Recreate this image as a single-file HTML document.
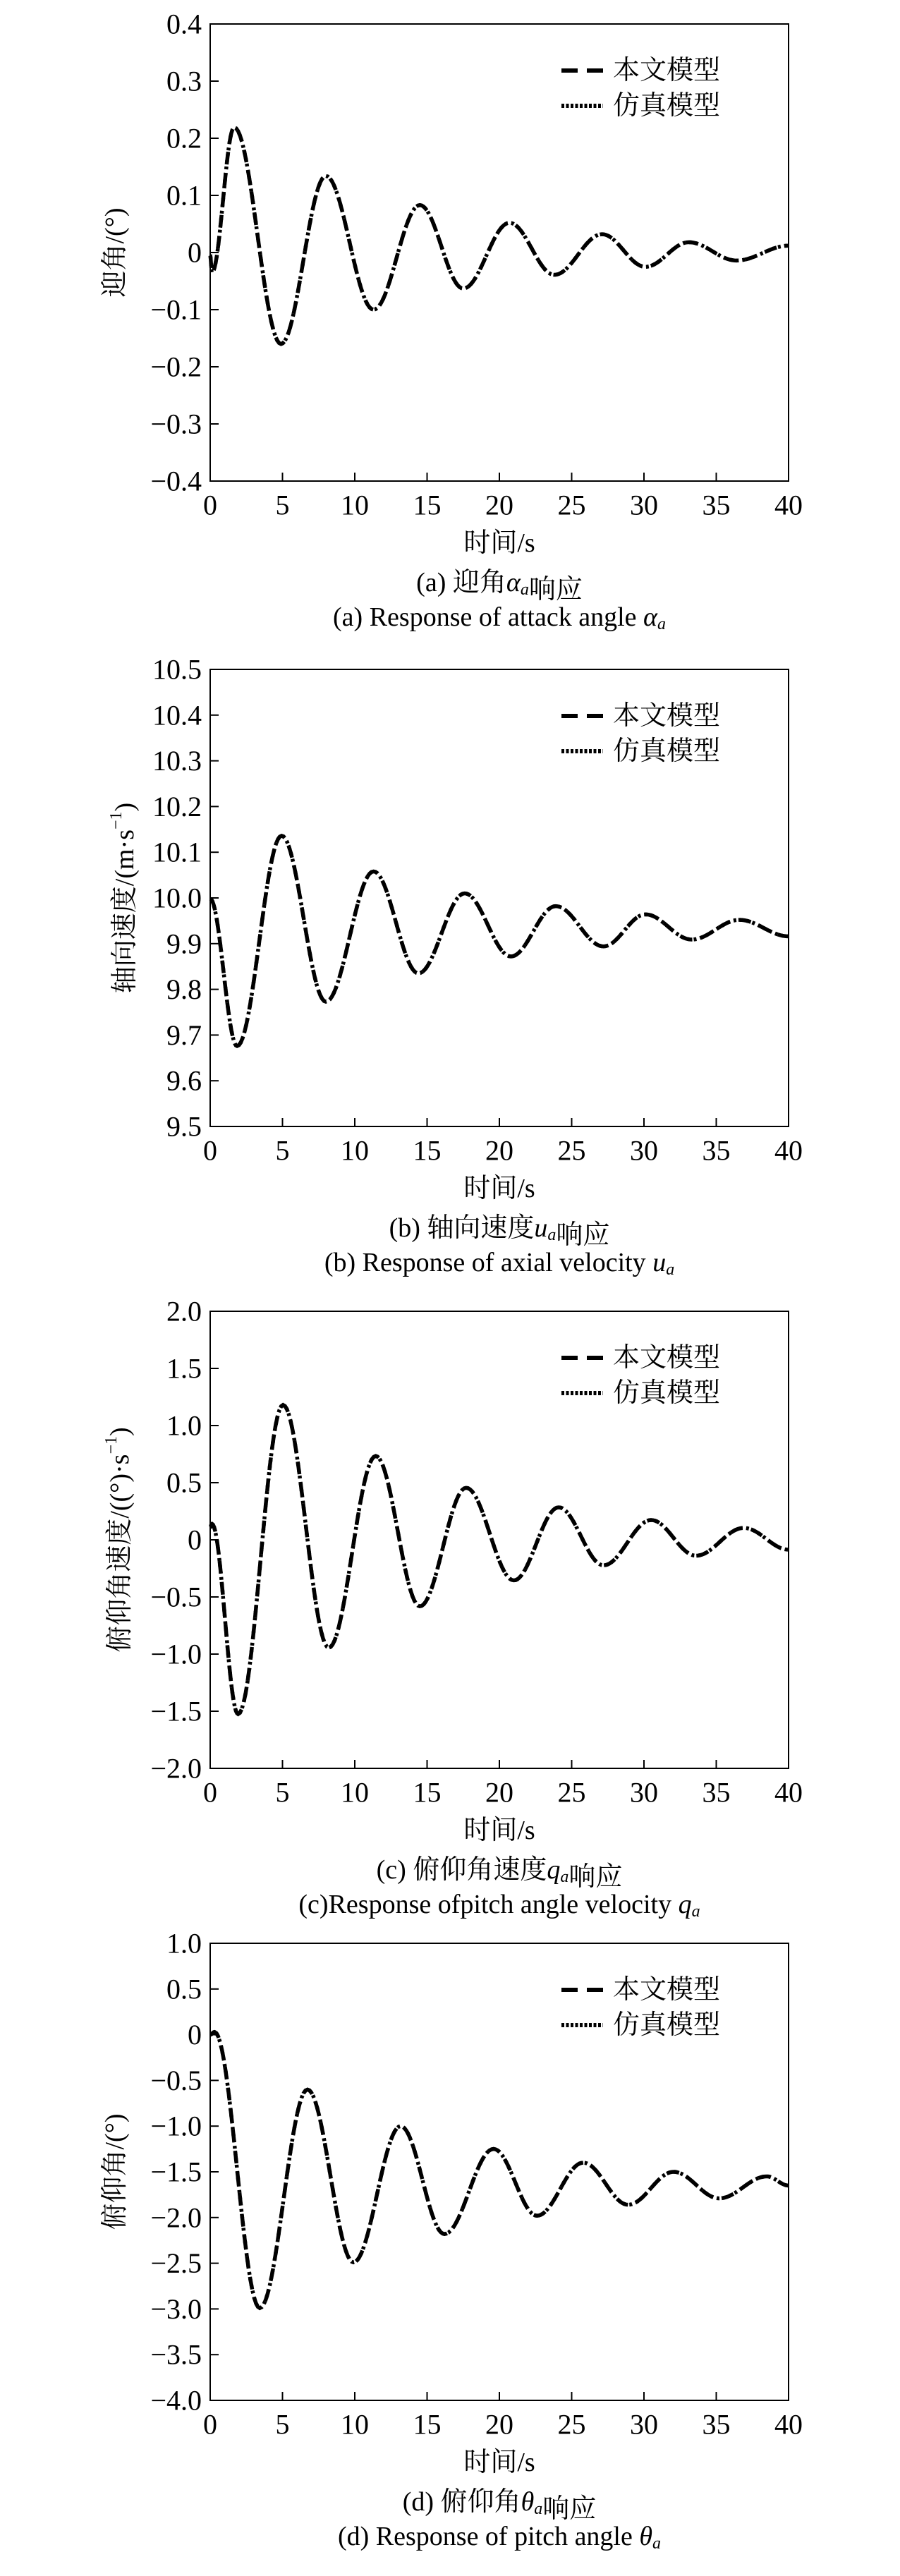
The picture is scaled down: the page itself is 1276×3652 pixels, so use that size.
<!DOCTYPE html>
<html><head><meta charset="utf-8">
<style>
html,body{margin:0;padding:0;background:#fff;}
svg{display:block;}
text{font-family:"Liberation Serif","Noto Serif CJK SC",serif;fill:#000;}
</style></head>
<body>
<svg id="fig" xmlns="http://www.w3.org/2000/svg" width="1276" height="3652" viewBox="0 0 1276 3652"></svg>
<script>
// ---- shared axis data ----
const timeTicks = [0,5,10,15,20,25,30,35,40];
const timeTickLabels = ["0","5","10","15","20","25","30","35","40"];

// ---- (a) attack angle ----
const alphaTime = [0,0.12,1.66,4.9,8.0,11.3,14.5,17.5,20.7,23.8,27.1,30.1,33.1,36.4,40];
const alphaModel = [-0.005,-0.035,0.219,-0.16,0.134,-0.10,0.083,-0.063,0.052,-0.039,0.032,-0.025,0.018,-0.014,0.012];
const alphaSim = [-0.005,-0.035,0.219,-0.16,0.134,-0.10,0.083,-0.063,0.052,-0.039,0.032,-0.025,0.018,-0.014,0.012];
const alphaTicks = [-0.4,-0.3,-0.2,-0.1,0,0.1,0.2,0.3,0.4];
const alphaTickLabels = ["\u22120.4","\u22120.3","\u22120.2","\u22120.1","0","0.1","0.2","0.3","0.4"];

// ---- (b) axial velocity ----
const uTime = [0,1.86,4.94,8.0,11.3,14.4,17.6,20.8,23.9,27.2,30.1,33.3,36.6,40];
const uModel = [9.998,9.676,10.136,9.773,10.058,9.835,10.010,9.872,9.982,9.894,9.964,9.909,9.952,9.916];
const uSim = [9.998,9.676,10.136,9.773,10.058,9.835,10.010,9.872,9.982,9.894,9.964,9.909,9.952,9.916];
const uTicks = [9.5,9.6,9.7,9.8,9.9,10.0,10.1,10.2,10.3,10.4,10.5];
const uTickLabels = ["9.5","9.6","9.7","9.8","9.9","10.0","10.1","10.2","10.3","10.4","10.5"];

// ---- (c) pitch rate ----
const qTime = [0,0.12,1.93,5.04,8.2,11.45,14.5,17.7,21.0,24.1,27.2,30.5,33.6,36.9,40];
const qModel = [0.11,0.14,-1.525,1.18,-0.944,0.733,-0.582,0.455,-0.355,0.284,-0.223,0.173,-0.139,0.104,-0.086];
const qSim = [0.11,0.14,-1.525,1.18,-0.944,0.733,-0.582,0.455,-0.355,0.284,-0.223,0.173,-0.139,0.104,-0.086];
const qTicks = [-2.0,-1.5,-1.0,-0.5,0,0.5,1.0,1.5,2.0];
const qTickLabels = ["\u22122.0","\u22121.5","\u22121.0","\u22120.5","0","0.5","1.0","1.5","2.0"];

// ---- (d) pitch angle ----
const thetaTime = [0,0.3,3.43,6.73,9.91,13.17,16.2,19.6,22.6,25.8,28.9,32.05,35.2,38.5,40];
const thetaModel = [0,0.03,-2.99,-0.60,-2.49,-1.0,-2.18,-1.25,-1.98,-1.40,-1.86,-1.50,-1.79,-1.55,-1.65];
const thetaSim = [0,0.03,-2.99,-0.60,-2.49,-1.0,-2.18,-1.25,-1.98,-1.40,-1.86,-1.50,-1.79,-1.55,-1.65];
const thetaTicks = [-4.0,-3.5,-3.0,-2.5,-2.0,-1.5,-1.0,-0.5,0,0.5,1.0];
const thetaTickLabels = ["\u22124.0","\u22123.5","\u22123.0","\u22122.5","\u22122.0","\u22121.5","\u22121.0","\u22120.5","0","0.5","1.0"];

const NS = "http://www.w3.org/2000/svg";
const svg = document.getElementById("fig");
function mk(tag, attrs, parent){
  const e = document.createElementNS(NS, tag);
  for (const k in attrs) e.setAttribute(k, attrs[k]);
  (parent||svg).appendChild(e);
  return e;
}
const L = 298, R = 1118, H = 648;

function drawPanel(key, top, yMin, yMax, ticks, tickLabels, times, model, sim, yTitleHTML, cap1HTML, cap2HTML, yTitleX){
  const bottom = top + H;
  const g = mk("g", {});
  
  
  const xs = t => L + (t - 0) / 40 * (R - L);
  const ys = v => bottom - (v - yMin) / (yMax - yMin) * H;

  // curves
  function pathFor(tArr, vArr){
    let d = "M" + xs(tArr[0]).toFixed(2) + "," + ys(vArr[0]).toFixed(2);
    for (let i = 0; i < tArr.length - 1; i++){
      const n = 24;
      for (let k = 1; k <= n; k++){
        const s = k / n;
        const t = tArr[i] + (tArr[i+1] - tArr[i]) * s;
        const v = vArr[i] + (vArr[i+1] - vArr[i]) * (1 - Math.cos(Math.PI * s)) / 2;
        d += " L" + xs(t).toFixed(2) + "," + ys(v).toFixed(2);
      }
    }
    return d;
  }
  const p1 = mk("path", {d: pathFor(times, model), fill:"none", stroke:"#000", "stroke-width":"5.5", "stroke-dasharray":"18 12"}, g);
  
  
  const p2 = mk("path", {d: pathFor(times, sim), fill:"none", stroke:"#000", "stroke-width":"5.5", "stroke-dasharray":"4 5", "stroke-dashoffset":"-20"}, g);
  
  

  // frame
  const fr = mk("rect", {x:L, y:top, width:R-L, height:H, fill:"none", stroke:"#000", "stroke-width":"2"}, g);
  
  

  // y ticks
  ticks.forEach((v, i) => {
    const y = ys(v);
    if (i > 0 && i < ticks.length - 1){
      const tl = mk("line", {x1:L, y1:y, x2:L+12, y2:y, stroke:"#000", "stroke-width":"2"}, g);
      
      
    }
    const tx = mk("text", {x:286, y:y, "text-anchor":"end", "dominant-baseline":"central", "font-size":"40"}, g);
    
    
    tx.textContent = tickLabels[i];
  });
  // x ticks
  timeTicks.forEach((t, i) => {
    const x = xs(t);
    if (i > 0 && i < timeTicks.length - 1){
      const tl = mk("line", {x1:x, y1:bottom, x2:x, y2:bottom-12, stroke:"#000", "stroke-width":"2"}, g);
      
      
    }
    const tx = mk("text", {x:x, y:bottom+34, "text-anchor":"middle", "dominant-baseline":"central", "font-size":"40"}, g);
    
    
    tx.textContent = timeTickLabels[i];
  });

  // x title
  const xt = mk("text", {x:708, y:bottom+88, "text-anchor":"middle", "dominant-baseline":"central", "font-size":"38"}, g);
  
  
  xt.textContent = "时间/s";

  // y title
  const cy = top + H/2;
  const yt = mk("text", {x:yTitleX, y:cy, "text-anchor":"middle", "dominant-baseline":"central", "font-size":"38", transform:"rotate(-90 " + yTitleX + " " + cy + ")"}, g);
  
  
  yt.innerHTML = yTitleHTML;

  // legend
  const ly1 = top + 66, ly2 = top + 116;
  const lg = mk("g", {}, g);
  
  
  const l1 = mk("line", {x1:796, y1:ly1, x2:855, y2:ly1, stroke:"#000", "stroke-width":"6", "stroke-dasharray":"23 13"}, lg);
  
  
  const t1 = mk("text", {x:869, y:ly1, "dominant-baseline":"central", "font-size":"38"}, lg);
  
  
  t1.textContent = "本文模型";
  const l2 = mk("line", {x1:796, y1:ly2, x2:855, y2:ly2, stroke:"#000", "stroke-width":"6", "stroke-dasharray":"4 2.5"}, lg);
  
  
  const t2 = mk("text", {x:869, y:ly2, "dominant-baseline":"central", "font-size":"38"}, lg);
  
  
  t2.textContent = "仿真模型";

  // captions
  const c1 = mk("text", {x:708, y:bottom+144, "text-anchor":"middle", "dominant-baseline":"central", "font-size":"38"}, g);
  
  
  c1.innerHTML = cap1HTML;
  const c2 = mk("text", {x:708, y:bottom+193, "text-anchor":"middle", "dominant-baseline":"central", "font-size":"38"}, g);
  
  
  c2.innerHTML = cap2HTML;
}

const sub = '<tspan font-style="italic" font-size="24" dy="10">a</tspan><tspan dy="-10"></tspan>';
drawPanel("attack-angle", 34, -0.4, 0.4, alphaTicks, alphaTickLabels, alphaTime, alphaModel, alphaSim,
  '迎角/(°)',
  '(a) 迎角<tspan font-style="italic">α</tspan>' + sub + '响应',
  '(a) Response of attack angle <tspan font-style="italic">α</tspan>' + sub, 163);
drawPanel("axial-velocity", 949, 9.5, 10.5, uTicks, uTickLabels, uTime, uModel, uSim,
  '轴向速度/(m·s<tspan font-size="24" dy="-12">−1</tspan><tspan dy="12">)</tspan>',
  '(b) 轴向速度<tspan font-style="italic">u</tspan>' + sub + '响应',
  '(b) Response of axial velocity <tspan font-style="italic">u</tspan>' + sub, 177);
drawPanel("pitch-rate", 1859, -2.0, 2.0, qTicks, qTickLabels, qTime, qModel, qSim,
  '俯仰角速度/((°)·s<tspan font-size="24" dy="-12">−1</tspan><tspan dy="12">)</tspan>',
  '(c) 俯仰角速度<tspan font-style="italic">q</tspan>' + sub + '响应',
  '(c)Response ofpitch angle velocity <tspan font-style="italic">q</tspan>' + sub, 170);
drawPanel("pitch-angle", 2755, -4.0, 1.0, thetaTicks, thetaTickLabels, thetaTime, thetaModel, thetaSim,
  '俯仰角/(°)',
  '(d) 俯仰角<tspan font-style="italic">θ</tspan>' + sub + '响应',
  '(d) Response of pitch angle <tspan font-style="italic">θ</tspan>' + sub, 163);
</script>
</body></html>
